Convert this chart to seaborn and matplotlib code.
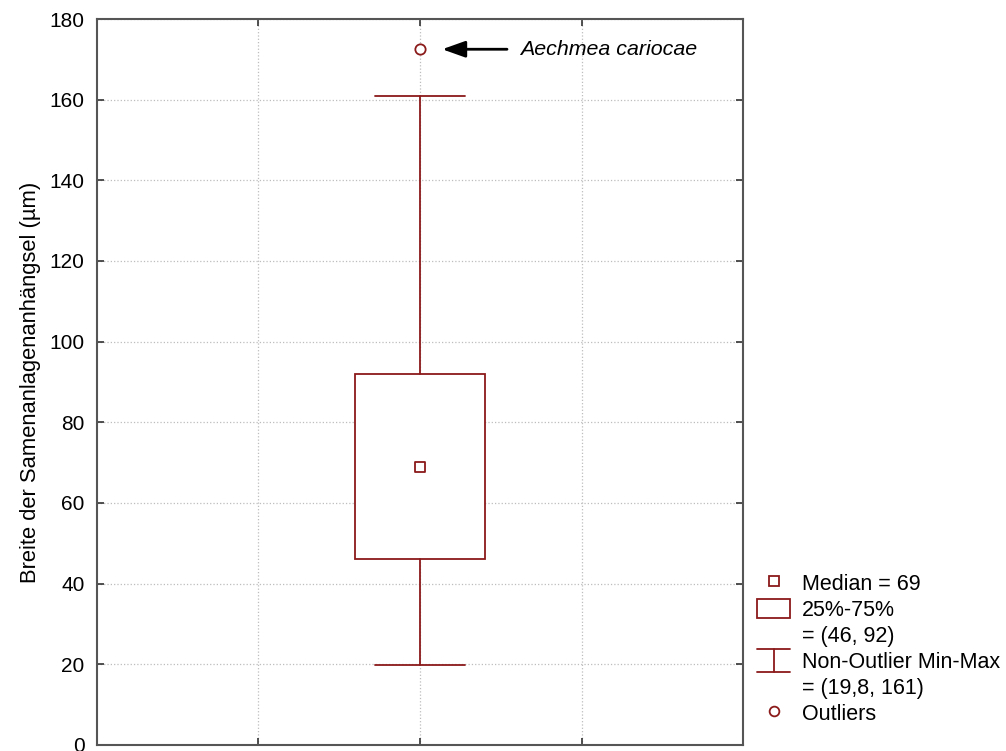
import matplotlib
matplotlib.use("Agg")
import matplotlib.pyplot as plt
from matplotlib.legend_handler import HandlerBase
from matplotlib.lines import Line2D
from matplotlib.patches import Rectangle
import seaborn as sns

# summary values
q1, median, q3 = 46, 69, 92
whisker_lo, whisker_hi = 19.8, 161
outliers = [172.5]
outlier_name = "Aechmea cariocae"
y_label = "Breite der Samenanlagenanhängsel (µm)"
y_ticks = [0, 20, 40, 60, 80, 100, 120, 140, 160, 180]
legend_labels = ["Median = 69", "25%-75%", "= (46, 92)",
                 "Non-Outlier Min-Max", "= (19,8, 161)", "Outliers"]

red = "#8b1a1a"
fs = 15

sns.set_style("ticks")
plt.rcParams['font.family'] = ['Liberation Sans', 'DejaVu Sans']
plt.rcParams['text.color'] = 'black'
plt.rcParams['axes.labelcolor'] = 'black'

fig = plt.figure(figsize=(10.06, 7.51), dpi=100)
ax = fig.add_axes([0.0964, 0.008, 0.6422, 0.9667])

# box and whiskers from the summary stats
stats = [dict(med=median, q1=q1, q3=q3, whislo=whisker_lo, whishi=whisker_hi, fliers=[])]
ax.bxp(stats, positions=[0], widths=0.8, capwidths=0.563, showfliers=False,
       patch_artist=True, manage_ticks=False,
       boxprops=dict(facecolor='white', edgecolor=red, linewidth=1.3),
       whiskerprops=dict(color=red, linewidth=1.3),
       capprops=dict(color=red, linewidth=1.3),
       medianprops=dict(linewidth=0))

# median square and outlier circle
sns.scatterplot(x=[0], y=[median], marker='s', s=55, facecolor='white',
                edgecolor=red, linewidth=1.3, ax=ax, zorder=4)
sns.scatterplot(x=[0] * len(outliers), y=outliers, marker='o', s=55, facecolor='white',
                edgecolor=red, linewidth=1.3, ax=ax, zorder=4)

ax.annotate(outlier_name, xy=(0, outliers[0]), xytext=(72, 0), textcoords='offset points',
            ha='left', va='center', fontsize=15.4, fontstyle='italic', color='black',
            arrowprops=dict(arrowstyle='-|>,head_length=0.7,head_width=0.25',
                            color='black', lw=2, shrinkA=7, shrinkB=16, mutation_scale=20))

ax.set_xlim(-2, 2)
ax.set_ylim(0, 180)
ax.set_xticks([-1, 0, 1])
ax.set_xticklabels([])
ax.set_yticks(y_ticks)
ax.set_xlabel("")
ax.set_ylabel(y_label, fontsize=15.8, labelpad=6)
ax.grid(True, linestyle=':', color='#bdbdbd', linewidth=0.9)
ax.set_axisbelow(True)
ax.tick_params(direction='in', top=True, right=True, length=5, width=1.2,
               color='#333333', labelsize=fs, labelcolor='black', pad=9)
for sp in ax.spines.values():
    sp.set_visible(True)
    sp.set_color('#555555')
    sp.set_linewidth(1.5)


class WhiskerKey:
    pass


class WhiskerHandler(HandlerBase):
    def create_artists(self, legend, orig_handle, xdescent, ydescent,
                       width, height, fontsize, trans):
        x0, x1 = -xdescent, -xdescent + width
        y0, y1 = -ydescent - 1.5, -ydescent + height + 1.5
        xm = (x0 + x1) / 2
        kw = dict(color=red, linewidth=1.3, transform=trans)
        return [Line2D([x0, x1], [y1, y1], **kw),
                Line2D([xm, xm], [y0, y1], **kw),
                Line2D([x0, x1], [y0, y0], **kw)]


blank = Line2D([], [], linestyle='none')
handles = [
    Line2D([], [], linestyle='none', marker='s', markersize=7, markerfacecolor='white',
           markeredgecolor=red, markeredgewidth=1.3),
    Rectangle((0, 0), 1, 1, facecolor='white', edgecolor=red, linewidth=1.3),
    blank,
    WhiskerKey(),
    blank,
    Line2D([], [], linestyle='none', marker='o', markersize=7, markerfacecolor='white',
           markeredgecolor=red, markeredgewidth=1.3),
]
leg = fig.legend(handles, legend_labels, handler_map={WhiskerKey: WhiskerHandler()},
                 loc='upper left', bbox_to_anchor=(0.7525, 0.237), bbox_transform=fig.transFigure,
                 frameon=False, fontsize=15.5, handlelength=1.55, handleheight=0.95,
                 handletextpad=0.55, labelspacing=0.2, borderpad=0, borderaxespad=0)
for t in leg.get_texts():
    t.set_color('black')

fig.savefig("out.png", dpi=100)
